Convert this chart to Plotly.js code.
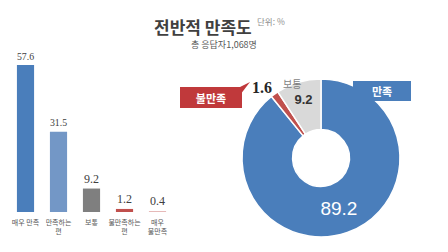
<!DOCTYPE html>
<html><head><meta charset="utf-8">
<script src="https://cdn.plot.ly/plotly-3.0.1.min.js"></script>
<style>html,body{margin:0;padding:0;background:#fff}#c{width:448px;height:252px}</style>
</head><body><div id="c"></div>
<script>
const barCats = ['매우 만족','만족하는<br>편','보통','불만족하는<br>편','매우<br>불만족'];
const barVals = [57.6, 31.5, 9.2, 1.2, 0.4];
const barColors = ['#4a7ebb','#7397c6','#7f7f7f','#c0504d','#e6b9b8'];
const pieLabels = ['만족','불만족','보통'];
const pieVals = [89.2, 1.6, 9.2];
const pieColors = ['#4a7ebb','#c0504d','#d9d9d9'];

const KR = '"Noto Sans CJK KR", "Noto Sans", sans-serif';
const traces = [
  {type:'bar', x:[0,1,2,3,4], y:barVals, marker:{color:barColors},
   text:barVals.map(v=>v.toFixed(1)), textposition:'outside', cliponaxis:false,
   textfont:{family:'"Liberation Serif", serif', size:12, color:'#404040'},
   hoverinfo:'none', xaxis:'x', yaxis:'y'},
  {type:'pie', labels:pieLabels, values:pieVals, sort:false, direction:'clockwise', rotation:0,
   hole:0.36, marker:{colors:pieColors, line:{color:'#ffffff', width:1.5}},
   texttemplate:['%{value:.1f}','','<b>%{value:.1f}</b>'], textposition:'inside',
   insidetextorientation:'horizontal',
   textfont:{family:'"Liberation Sans", Arial, sans-serif', size:[19,10,13], color:['#ffffff','#ffffff','#333333']},
   showlegend:false, hoverinfo:'none',
   domain:{x:[0.540,0.893], y:[0.0595,0.6865]}}
];
const layout = {
  width:448, height:252, margin:{l:0,r:0,t:0,b:0,pad:0}, paper_bgcolor:'#fff', plot_bgcolor:'#fff',
  showlegend:false, bargap:0.48,
  xaxis:{domain:[0.0201,0.3884], range:[-0.5,4.5], tickmode:'array', tickvals:[0,1,2,3,4], ticktext:barCats,
    showgrid:false, zeroline:false, showline:false, ticks:'', ticklabelstandoff:5,
    tickfont:{family:KR, size:7, color:'#595959'}},
  yaxis:{domain:[0.1587,0.762], range:[0,59.6], visible:false},
  annotations:[
    {xref:'paper', yref:'paper', x:203/448, y:1-12/252, text:'<b>전반적 만족도</b>', showarrow:false,
     font:{family:KR, size:17, color:'#404040'}},
    {xref:'paper', yref:'paper', x:255/448, y:1-13/252, xanchor:'left', text:'단위: %', showarrow:false,
     font:{family:KR, size:8.5, color:'#8c8c8c'}},
    {xref:'paper', yref:'paper', x:224/448, y:1-36/252, text:'총 응답자1,068명', showarrow:false,
     font:{family:KR, size:9, color:'#595959'}},
    {xref:'paper', yref:'paper', x:292/448, y:1-74/252, text:pieLabels[2], showarrow:false,
     font:{family:KR, size:10, color:'#7f7f7f'}},
    {xref:'paper', yref:'paper', x:262/448, y:1-87/252, text:'<b>'+pieVals[1].toFixed(1)+'</b>', showarrow:false,
     font:{family:'"Liberation Serif", serif', size:16, color:'#262626'}},
    {xref:'paper', yref:'paper', x:211/448, y:1-98/252, text:'<b>'+pieLabels[1]+'</b>', showarrow:false,
     bgcolor:'#c0393b', bordercolor:'#c0393b', borderpad:3, width:54, height:13,
     font:{family:KR, size:11, color:'#ffffff'}},
    {xref:'paper', yref:'paper', x:411/448, y:1-81/252, text:'<b>'+pieLabels[0]+'</b>', showarrow:false,
     bgcolor:'#4a7ebb', bordercolor:'#4a7ebb', borderpad:3, width:50, height:12,
     font:{family:KR, size:11, color:'#ffffff'}}
  ],
  shapes:[
    {type:'path', xref:'paper', yref:'paper', path:'M '+(236/448)+' '+(1-89/252)+' L '+(250/448)+' '+(1-82/252)+' L '+(240/448)+' '+(1-95/252)+' Z', fillcolor:'#c0393b', line:{width:0}},
    {type:'path', xref:'paper', yref:'paper', path:'M '+(388/448)+' '+(1-88/252)+' L '+(382/448)+' '+(1-98/252)+' L '+(396/448)+' '+(1-88/252)+' Z', fillcolor:'#4a7ebb', line:{width:0}}
  ]
};
Plotly.newPlot('c', traces, layout, {staticPlot:true, displayModeBar:false});
</script></body></html>
